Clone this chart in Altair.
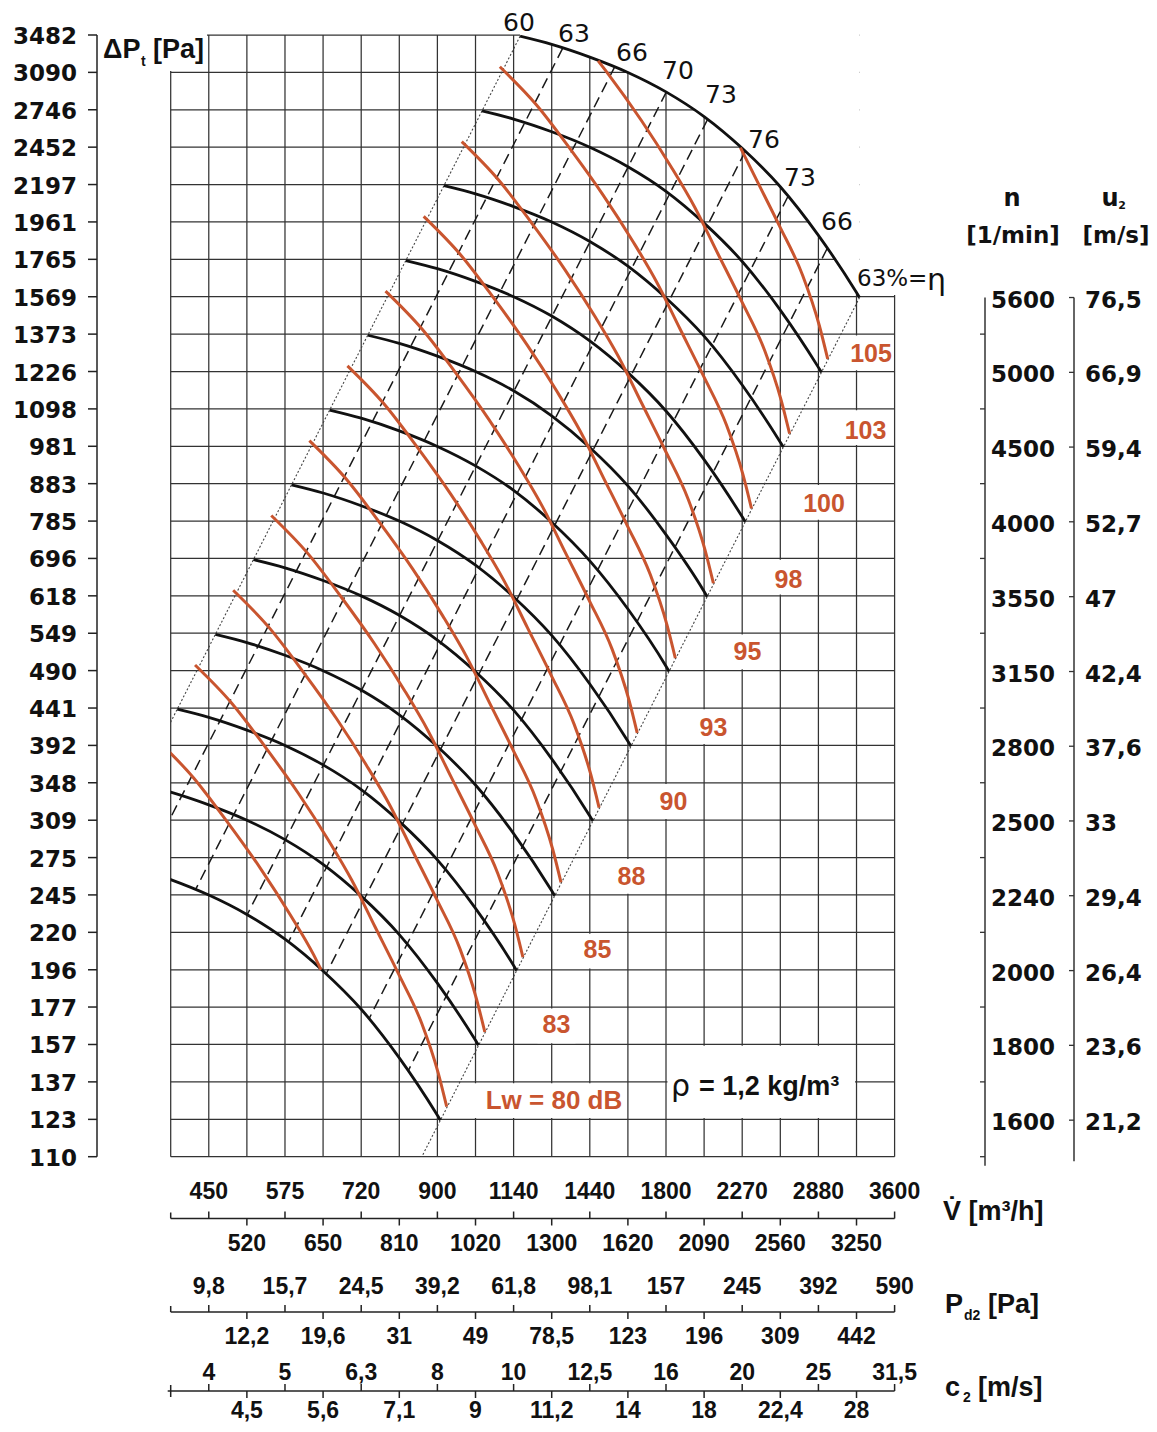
import altair as alt
import pandas as pd

# ---------------- values ----------------
# grid / tick positions of the two logarithmic axes (R20 steps)
V_GRID = [401.0, 449.9, 504.8, 566.4, 635.5, 713.1, 800.1, 897.7, 1007.3, 1130.2,
          1268.1, 1422.8, 1596.4, 1791.2, 2009.8, 2255.0, 2530.2, 2839.0, 3185.4, 3573.9]
P_GRID = [110.0, 123.4, 138.5, 155.4, 174.4, 195.6, 219.5, 246.3, 276.3, 310.0,
          347.9, 390.3, 437.9, 491.4, 551.3, 618.6, 694.1, 778.7, 873.8, 980.4,
          1100.0, 1234.2, 1384.8, 1553.8, 1743.4, 1956.2, 2194.9, 2462.7, 2763.2, 3100.4, 3478.5]
P_LABELS = ["110", "123", "137", "157", "177", "196", "220", "245", "275", "309", "348",
            "392", "441", "490", "549", "618", "696", "785", "883", "981", "1098", "1226",
            "1373", "1569", "1765", "1961", "2197", "2452", "2746", "3090", "3482"]
V_LABELS = ["450", "520", "575", "650", "720", "810", "900", "1020", "1140", "1300", "1440",
            "1620", "1800", "2090", "2270", "2560", "2880", "3250", "3600"]
PD2_LABELS = ["9,8", "12,2", "15,7", "19,6", "24,5", "31", "39,2", "49", "61,8", "78,5",
              "98,1", "123", "157", "196", "245", "309", "392", "442", "590"]
C2_LABELS = ["4", "4,5", "5", "5,6", "6,3", "7,1", "8", "9", "10", "11,2", "12,5", "14",
             "16", "18", "20", "22,4", "25", "28", "31,5"]

SPEEDS = [5600, 5000, 4500, 4000, 3550, 3150, 2800, 2500, 2240, 2000, 1800, 1600]
U2 = ["76,5", "66,9", "59,4", "52,7", "47", "42,4", "37,6", "33", "29,4", "26,4", "23,6", "21,2"]

# fan curves (one per speed n): volume flow [m3/h] and total pressure [Pa]
BLACK_V = {
    5600: [1152.6, 1268.1, 1422.8, 1596.4, 1791.2, 2009.8, 2255.0, 2530.2, 2839.0, 3185.4, 3215.0],
    5000: [1027.3, 1130.2, 1268.1, 1422.8, 1596.4, 1791.2, 2009.8, 2255.0, 2530.2, 2839.0, 2865.4],
    4500: [915.6, 1007.3, 1130.2, 1268.1, 1422.8, 1596.4, 1791.2, 2009.8, 2255.0, 2530.2, 2553.8],
    4000: [816.0, 897.7, 1007.3, 1130.2, 1268.1, 1422.8, 1596.4, 1791.2, 2009.8, 2255.0, 2276.1],
    3550: [727.3, 800.1, 897.7, 1007.3, 1130.2, 1268.1, 1422.8, 1596.4, 1791.2, 2009.8, 2028.5],
    3150: [648.2, 713.1, 800.1, 897.7, 1007.3, 1130.2, 1268.1, 1422.8, 1596.4, 1791.2, 1807.9],
    2800: [577.7, 635.5, 713.1, 800.1, 897.7, 1007.3, 1130.2, 1268.1, 1422.8, 1596.4, 1611.3],
    2500: [514.9, 566.4, 635.5, 713.1, 800.1, 897.7, 1007.3, 1130.2, 1268.1, 1422.8, 1436.1],
    2240: [458.9, 504.8, 566.4, 635.5, 713.1, 800.1, 897.7, 1007.3, 1130.2, 1268.1, 1279.9],
    2000: [409.0, 449.9, 504.8, 566.4, 635.5, 713.1, 800.1, 897.7, 1007.3, 1130.2, 1140.7],
    1800: [364.5, 401.0, 449.9, 504.8, 566.4, 635.5, 713.1, 800.1, 897.7, 1007.3, 1016.7],
    1600: [324.9, 357.4, 401.0, 449.9, 504.8, 566.4, 635.5, 713.1, 800.1, 897.7, 906.1],
}
BLACK_P = {
    5600: [3466, 3380, 3250, 3100, 2920, 2706, 2454, 2180, 1877, 1574, 1550],
    5000: [2753, 2685, 2582, 2462, 2319, 2150, 1949, 1732, 1491, 1250, 1231],
    4500: [2187, 2133, 2051, 1956, 1842, 1707, 1548, 1376, 1184, 993, 978],
    4000: [1737, 1694, 1629, 1554, 1464, 1356, 1230, 1093, 941, 789, 777],
    3550: [1380, 1346, 1294, 1234, 1163, 1077, 977, 868, 747, 627, 617],
    3150: [1096, 1069, 1028, 980, 923, 856, 776, 689, 594, 498, 490],
    2800: [870.6, 849.0, 816.4, 778.7, 733.5, 679.7, 616.4, 547.6, 471.5, 395.4, 389.3],
    2500: [691.6, 674.4, 648.5, 618.5, 582.6, 539.9, 489.6, 435.0, 374.5, 314.1, 309.3],
    2240: [549.3, 535.7, 515.1, 491.3, 462.8, 428.9, 388.9, 345.5, 297.5, 249.5, 245.7],
    2000: [436.3, 425.5, 409.1, 390.3, 367.6, 340.7, 308.9, 274.4, 236.3, 198.2, 195.1],
    1800: [346.6, 338.0, 325.0, 310.0, 292.0, 270.6, 245.4, 218.0, 187.7, 157.4, 155.0],
    1600: [275.3, 268.5, 258.2, 246.2, 231.9, 214.9, 194.9, 173.2, 149.1, 125.0, 123.1],
}

# efficiency lines (label, V top, P top, V bottom, P bottom)
ETA_LINES = [
    ("63", 1311.1, 3341.0, 369.5, 265.4),
    ("66", 1533.4, 3150.7, 432.2, 250.3),
    ("70", 1793.3, 2920.0, 505.4, 231.9),
    ("73", 2030.7, 2681.6, 572.3, 213.0),
    ("76", 2276.0, 2431.7, 641.5, 193.2),
    ("73", 2589.2, 2115.4, 729.7, 168.0),
    ("66", 2915.1, 1802.6, 821.6, 143.2),
]
# dotted limits: 60 % (left) and 63 % (right)
LEFT_LIMIT_V, LEFT_LIMIT_P = [1152.6, 324.9], [3466, 275.3]
RIGHT_LIMIT_V, RIGHT_LIMIT_P = [3215.0, 807.6], [1550, 97.8]

# sound power level lines Lw [dB]
RED_V = {
    78: [384.7, 429.8, 475.2, 525.6, 575.4, 617.5, 631.6],
    80: [431.6, 482.2, 533.2, 589.7, 645.6, 692.9, 743.5, 797.7, 856.1, 900.2, 923.3],
    83: [484.3, 541.0, 598.3, 661.7, 724.4, 777.5, 834.2, 895.0, 960.6, 1010.0, 1036.0],
    85: [543.4, 607.1, 671.3, 742.4, 812.8, 872.3, 936.0, 1004.3, 1077.8, 1133.3, 1162.4],
    88: [609.7, 681.1, 753.2, 833.0, 911.9, 978.8, 1050.2, 1126.8, 1209.3, 1271.6, 1304.2],
    90: [684.0, 764.2, 845.1, 934.6, 1023.2, 1098.2, 1178.4, 1264.3, 1356.8, 1426.7, 1463.3],
    93: [767.5, 857.5, 948.2, 1048.6, 1148.1, 1232.2, 1322.1, 1418.5, 1522.4, 1600.8, 1641.9],
    95: [861.2, 962.1, 1063.9, 1176.6, 1288.1, 1382.5, 1483.5, 1591.6, 1708.1, 1796.1, 1842.2],
    98: [966.2, 1079.5, 1193.7, 1320.2, 1445.3, 1551.2, 1664.5, 1785.8, 1916.6, 2015.3, 2067.0],
    100: [1084.1, 1211.2, 1339.3, 1481.3, 1621.7, 1740.5, 1867.6, 2003.7, 2150.4, 2261.2, 2319.2],
    103: [1458.8, 1502.8, 1662.0, 1819.6, 1952.9, 2095.5, 2248.2, 2412.8, 2537.1, 2602.2],
    105: [2242.6, 2351.2, 2522.5, 2707.2, 2846.7, 2919.7],
}
RED_P = {
    78: [397.1, 353.1, 308.9, 267.5, 231.7, 204.9, 195.6],
    80: [499.9, 444.5, 388.9, 336.8, 291.7, 257.9, 223.3, 193.4, 165.9, 142.2, 128.3],
    83: [629.3, 559.6, 489.6, 424.0, 367.2, 324.7, 281.1, 243.5, 208.9, 179.0, 161.5],
    85: [792.3, 704.5, 616.4, 533.8, 462.3, 408.7, 353.9, 306.5, 262.9, 225.4, 203.3],
    88: [997.4, 886.9, 776.0, 672.0, 582.0, 514.6, 445.5, 385.9, 331.0, 283.7, 256.0],
    90: [1255.7, 1116.5, 976.9, 846.0, 732.7, 647.8, 560.9, 485.8, 416.7, 357.2, 322.3],
    93: [1580.8, 1405.6, 1229.8, 1065.1, 922.4, 815.5, 706.1, 611.6, 524.6, 449.7, 405.7],
    95: [1990.1, 1769.6, 1548.2, 1340.8, 1161.3, 1026.7, 889.0, 769.9, 660.5, 566.1, 510.8],
    98: [2505.4, 2227.8, 1949.1, 1688.0, 1462.0, 1292.6, 1119.2, 969.3, 831.5, 712.7, 643.0],
    100: [3154.1, 2804.6, 2453.8, 2125.1, 1840.5, 1627.2, 1408.9, 1220.3, 1046.8, 897.2, 809.5],
    103: [3212.8, 3089.1, 2675.3, 2317.1, 2048.6, 1773.7, 1536.2, 1317.8, 1129.5, 1019.1],
    105: [2459.7, 2233.0, 1934.0, 1659.0, 1422.0, 1283.0],
}
DB_LABELS = ["105", "103", "100", "98", "95", "93", "90", "88", "85", "83"]

# ---------------- layout / style ----------------
X0, Y0 = 170.7, 35.0          # page position of the plot origin
W, H = 723.9, 1121.7
STEP_Y = 37.39
RED = "#C9552F"
INK = "#111111"
GRID = "#333333"
SANS = "Liberation Sans"
WIDE = "DejaVu Sans"

xs = alt.Scale(type="log", domain=[V_GRID[0], V_GRID[-1]], nice=False)
ys = alt.Scale(type="log", domain=[P_GRID[0], P_GRID[-1]], nice=False)


def X(f="V"):
    return alt.X(f"{f}:Q", scale=xs, axis=None)


def Y(f="P"):
    return alt.Y(f"{f}:Q", scale=ys, axis=None)


def XP(f="x"):
    return alt.X(f"{f}:Q", scale=None, axis=None)


def YP(f="y"):
    return alt.Y(f"{f}:Q", scale=None, axis=None)


def curves_df(vdict, pdict, prefix):
    rows = []
    for key in vdict:
        for i, (v, p) in enumerate(zip(vdict[key], pdict[key])):
            rows.append({"g": f"{prefix}{key}", "i": i, "V": v, "P": p})
    return pd.DataFrame(rows)


def texts(items, font=SANS, size=24, weight="bold", color=INK, align="center", dy=0):
    df = pd.DataFrame([{"x": x - X0, "y": y - Y0, "t": t} for t, x, y in items])
    return alt.Chart(df).mark_text(font=font, fontSize=size, fontWeight=weight, color=color,
                                   align=align, baseline="middle", dy=dy).encode(
        x=XP(), y=YP(), text="t:N")


def boxes(items):
    df = pd.DataFrame([{"x": a - X0, "x2": b - X0, "y": c - Y0, "y2": d - Y0} for a, b, c, d in items])
    return alt.Chart(df).mark_rect(color="white").encode(
        x=XP(), x2=alt.X2("x2:Q"), y=YP(), y2=alt.Y2("y2:Q"))


def row_px(t):
    top = 1156.7 - STEP_Y * (t + 1) + 1.3
    bot = 1156.7 - STEP_Y * t - 1.3
    return top, bot


layers = []

# grid
layers.append(alt.Chart(pd.DataFrame({"V": V_GRID})).mark_rule(color=GRID, strokeWidth=1.25).encode(x=X()))
layers.append(alt.Chart(pd.DataFrame({"P": P_GRID})).mark_rule(color=GRID, strokeWidth=1.25).encode(y=Y()))

# white region above the outer curve
env = pd.DataFrame({"V": BLACK_V[5600], "P": BLACK_P[5600]})
env["Ptop"] = 3700.0
layers.append(alt.Chart(env).mark_area(color="white", interpolate="monotone").encode(
    x=X(), y=Y(), y2=alt.Y2("Ptop:Q")))
layers.append(alt.Chart(pd.DataFrame({"V": [3215.0], "V2": [3800.0], "P": [1562.0], "P2": [3700.0]}))
              .mark_rect(color="white").encode(x=X(), x2=alt.X2("V2:Q"), y=Y(), y2=alt.Y2("P2:Q")))

# white label boxes
db_centers = [(871, 354, 21), (865.5, 431, 19), (824, 504, 17), (788.5, 580, 15), (747.5, 652, 13),
              (713.5, 728, 11), (673.5, 802, 9), (631.5, 877, 7), (597.5, 950, 5), (556.5, 1025, 3)]
box_items = [(100, 207, 27, 71)]
for lab, (cx, cy, t) in zip(DB_LABELS, db_centers):
    half = 7 * len(lab) + 5
    top, bot = row_px(t)
    box_items.append((cx - half, min(cx + half, 893.5), top, bot))
top, bot = row_px(1)
box_items.append((468, 626.4, top, bot))
box_items.append((667.5, 855.0, row_px(2)[0], row_px(1)[1]))
layers.append(boxes(box_items))

# dotted limits
lim = pd.DataFrame(
    [{"g": "L", "i": i, "V": v, "P": p} for i, (v, p) in enumerate(zip(LEFT_LIMIT_V, LEFT_LIMIT_P))]
    + [{"g": "R", "i": i, "V": v, "P": p} for i, (v, p) in enumerate(zip(RIGHT_LIMIT_V, RIGHT_LIMIT_P))])
layers.append(alt.Chart(lim).mark_line(color="#444", strokeWidth=1.1, strokeDash=[2, 2], clip=True).encode(
    x=X(), y=Y(), detail="g:N", order="i:Q"))

# dashed efficiency lines
eta_rows = []
for j, (lab, vt, pt, vb, pb) in enumerate(ETA_LINES):
    eta_rows.append({"g": f"e{j}", "i": 0, "V": vt, "P": pt})
    eta_rows.append({"g": f"e{j}", "i": 1, "V": vb, "P": pb})
layers.append(alt.Chart(pd.DataFrame(eta_rows)).mark_line(
    color="#1a1a1a", strokeWidth=1.5, strokeDash=[11, 6], clip=True).encode(
    x=X(), y=Y(), detail="g:N", order="i:Q"))

# fan curves
layers.append(alt.Chart(curves_df(BLACK_V, BLACK_P, "n")).mark_line(
    color="#111", strokeWidth=2.8, interpolate="monotone", clip=True).encode(
    x=X(), y=Y(), detail="g:N", order="i:Q"))

# sound level curves
layers.append(alt.Chart(curves_df(RED_V, RED_P, "L")).mark_line(
    color=RED, strokeWidth=3, interpolate="monotone", clip=True).encode(
    x=X(), y=Y(), detail="g:N", order="i:Q"))

# left pressure scale (domain line, ticks, labels)
AXX = 97.0
layers.append(alt.Chart(pd.DataFrame({"x": [AXX - X0], "y": [0.0], "y2": [H]})).mark_rule(
    color="#222", strokeWidth=1.5).encode(x=XP(), y=YP(), y2=alt.Y2("y2:Q")))
layers.append(alt.Chart(pd.DataFrame({"P": P_GRID, "x": AXX - 9 - X0, "x2": AXX - X0})).mark_rule(
    color="#222", strokeWidth=1.5).encode(x=XP(), x2=alt.X2("x2:Q"), y=Y()))
layers.append(alt.Chart(pd.DataFrame({"P": P_GRID, "t": P_LABELS, "x": 77 - X0})).mark_text(
    font=WIDE, fontSize=23, fontWeight="bold", color=INK, align="right", baseline="middle", dy=2).encode(
    x=XP(), y=Y(), text="t:N"))

# efficiency labels
layers.append(texts([("60", 519, 23), ("63", 574, 34), ("66", 632, 53), ("70", 678, 71),
                     ("73", 721, 95), ("76", 764, 140), ("73", 800, 178), ("66", 837, 222)],
                    font=WIDE, size=25, weight="normal"))
layers.append(texts([("63%=", 857, 279)], font=WIDE, size=23, weight="normal", align="left"))
layers.append(texts([("η", 927, 281)], font=WIDE, size=30, weight="normal", align="left"))

# dB labels
layers.append(texts([(lab, cx, cy) for lab, (cx, cy, t) in zip(DB_LABELS, db_centers)],
                    size=25, color=RED))
layers.append(texts([("Lw = 80 dB", 554, 1101)], size=26, color=RED))

# density note
layers.append(texts([("ρ", 671, 1087)], font=WIDE, size=30, weight="normal", align="left"))
layers.append(texts([("= 1,2 kg/m³", 699, 1087)], size=27, align="left"))

# axis titles
layers.append(texts([("ΔP", 103, 50), ("[Pa]", 153, 50)], size=27, align="left"))
layers.append(texts([("t", 141, 62)], size=14, align="left"))
layers.append(texts([("n", 1012, 199), ("u", 1110, 199)], font=WIDE, size=24))
layers.append(texts([("2", 1122, 206)], font=WIDE, size=11))
layers.append(texts([("[1/min]", 1013, 236), ("[m/s]", 1116, 236)], font=WIDE, size=23))
layers.append(texts([("V\u0307 [m³/h]", 943, 1212), ("P", 945, 1305), ("[Pa]", 988, 1305),
                     ("c", 945, 1388), ("[m/s]", 978, 1388)], size=27, align="left"))
layers.append(texts([("d2", 964, 1316), ("2", 963, 1398)], size=14, align="left"))

# bottom scales: V, Pd2, c2
AXES = [(V_LABELS, 1218.5, 1191.5, 1243.5, X0), (PD2_LABELS, 1312.0, 1286.5, 1336.5, X0),
        (C2_LABELS, 1391.0, 1372.5, 1410.5, X0 - 3)]
line_rows, tick_rows, lab_rows = [], [], []
for labels, ly, uy, dy_, xstart in AXES:
    line_rows.append({"x": xstart - X0, "x2": W, "y": ly - Y0})
    tick_rows.append({"V": V_GRID[0], "y": ly - 6 - Y0, "y2": ly + (6 if xstart < X0 else 0) - Y0})
    for s, lab in enumerate(labels, start=1):
        up = s % 2 == 1
        tick_rows.append({"V": V_GRID[s], "y": (ly - 7 if up else ly) - Y0, "y2": (ly if up else ly + 7) - Y0})
        lab_rows.append({"V": V_GRID[s], "y": (uy if up else dy_) - Y0, "t": lab})
layers.append(alt.Chart(pd.DataFrame(line_rows)).mark_rule(color="#222", strokeWidth=1.5).encode(
    x=XP(), x2=alt.X2("x2:Q"), y=YP()))
layers.append(alt.Chart(pd.DataFrame(tick_rows)).mark_rule(color="#222", strokeWidth=1.5).encode(
    x=X(), y=YP(), y2=alt.Y2("y2:Q")))
layers.append(alt.Chart(pd.DataFrame(lab_rows)).mark_text(
    font=SANS, fontSize=23, fontWeight="bold", color=INK, align="center", baseline="middle").encode(
    x=X(), y=YP(), text="t:N"))

# right scales: n and u2 (at the end pressure of each fan curve)
end_p = [BLACK_P[n][-1] for n in SPEEDS]
NX, UX = 985.0, 1074.0
layers.append(alt.Chart(pd.DataFrame({"x": [NX - X0, UX - X0], "P": [end_p[0], end_p[0]], "P2": [107.0, 108.5]}))
              .mark_rule(color="#333", strokeWidth=1.5).encode(x=XP(), y=Y(), y2=alt.Y2("P2:Q")))
rt = [{"x": NX - 5 - X0, "x2": NX - X0, "P": P_GRID[t]} for t in range(22, -1, -2)]
rt += [{"x": UX - 5 - X0, "x2": UX - X0, "P": p} for p in end_p]
layers.append(alt.Chart(pd.DataFrame(rt)).mark_rule(color="#333", strokeWidth=1.3).encode(
    x=XP(), x2=alt.X2("x2:Q"), y=Y()))
rl = pd.DataFrame([{"x": 991 - X0, "P": p, "t": str(n)} for n, p in zip(SPEEDS, end_p)]
                  + [{"x": 1085 - X0, "P": p, "t": u} for u, p in zip(U2, end_p)])
layers.append(alt.Chart(rl).mark_text(font=WIDE, fontSize=23, fontWeight="bold", color=INK,
                                      align="left", baseline="middle", dy=3).encode(
    x=XP(), y=Y(), text="t:N"))

chart = alt.layer(*layers).properties(
    width=W, height=H,
    autosize=alt.AutoSizeParams(type="none"),
    padding={"left": X0 - 8, "top": Y0 - 8, "right": 1141 - (X0 - 8) - W, "bottom": 1416 - (Y0 - 8) - H},
    background="white",
).configure_view(stroke=None)

chart.save("out.html", embed_options={"renderer": "svg", "actions": False})
